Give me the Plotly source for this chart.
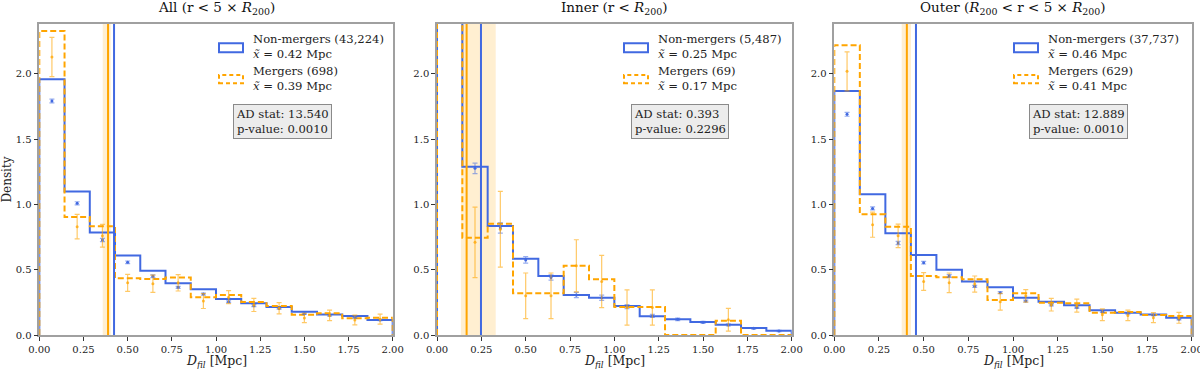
import numpy as np
import plotly.graph_objects as go

# --- data --------------------------------------------------------------
bin_edges = np.linspace(0, 2, 15)
bin_mid = (bin_edges[:-1] + bin_edges[1:]) / 2

panel_titles = [
    "All (r < 5 × <i>R</i><sub>200</sub>)",
    "Inner (r < <i>R</i><sub>200</sub>)",
    "Outer (<i>R</i><sub>200</sub> < r < 5 × <i>R</i><sub>200</sub>)",
]
n_nonmergers = [43224, 5487, 37737]
n_mergers = [698, 69, 629]
median_nonmergers = [0.423, 0.248, 0.457]
median_mergers = [0.389, 0.167, 0.406]
median_mergers_lo = [0.359, 0.135, 0.377]
median_mergers_hi = [0.404, 0.331, 0.429]
ad_stat = [13.540, 0.393, 12.889]
p_value = [0.0010, 0.2296, 0.0010]

# histogram densities (step outlines)
all_nm_hist = [1.96, 1.10, 0.785, 0.61, 0.493, 0.396, 0.35, 0.276, 0.243, 0.215, 0.179, 0.158, 0.146, 0.115]
all_m_hist = [2.33, 0.904, 0.833, 0.434, 0.43, 0.44, 0.289, 0.307, 0.253, 0.222, 0.155, 0.166, 0.128, 0.133]
inner_nm_hist = [3.9, 1.29, 0.835, 0.585, 0.452, 0.307, 0.286, 0.222, 0.143, 0.12, 0.1, 0.079, 0.054, 0.033]
inner_m_hist = [4.4, 0.746, 0.853, 0.319, 0.319, 0.531, 0.427, 0.215, 0.215, 0.0, 0.0, 0.11, 0.0, 0.0]
outer_nm_hist = [1.87, 1.078, 0.779, 0.613, 0.5, 0.409, 0.365, 0.286, 0.255, 0.227, 0.19, 0.171, 0.158, 0.133]
outer_m_hist = [2.22, 0.925, 0.83, 0.452, 0.442, 0.427, 0.268, 0.319, 0.248, 0.243, 0.171, 0.176, 0.153, 0.146]

# bootstrap points with errors
all_nm_pts = [1.793, 1.009, 0.728, 0.557, 0.45, 0.365, 0.314, 0.255, 0.225, 0.204, 0.163, 0.151, 0.135, 0.115]
all_nm_err = [0.015, 0.012, 0.012, 0.01, 0.01, 0.008, 0.008, 0.007, 0.007, 0.006, 0.006, 0.006, 0.005, 0.005]
all_m_pts = [2.13, 0.83, 0.76, 0.40, 0.393, 0.40, 0.26, 0.29, 0.23, 0.205, 0.13, 0.15, 0.115, 0.122]
all_m_err = [0.15, 0.094, 0.087, 0.065, 0.066, 0.063, 0.057, 0.05, 0.05, 0.043, 0.035, 0.04, 0.038, 0.038]

inner_nm_pts = [3.7, 1.277, 0.82, 0.575, 0.44, 0.307, 0.286, 0.217, 0.146, 0.12, 0.097, 0.077, 0.051, 0.03]
inner_nm_err = [0.1, 0.04, 0.04, 0.025, 0.02, 0.02, 0.02, 0.015, 0.012, 0.01, 0.008, 0.008, 0.006, 0.005]
inner_m_pts = [4.2, 0.71, 0.81, 0.30, 0.30, 0.53, 0.41, 0.21, 0.21, None, None, 0.117, None, None]
inner_m_err = [0.5, 0.27, 0.29, 0.175, 0.175, 0.2, 0.2, 0.135, 0.135, None, None, 0.087, None, None]

outer_nm_pts = [1.691, 0.97, 0.705, 0.554, 0.452, 0.373, 0.324, 0.26, 0.23, 0.21, 0.18, 0.166, 0.153, 0.12]
outer_nm_err = [0.015, 0.012, 0.012, 0.01, 0.01, 0.008, 0.008, 0.007, 0.007, 0.006, 0.006, 0.006, 0.005, 0.005]
outer_m_pts = [2.02, 0.845, 0.76, 0.41, 0.40, 0.39, 0.255, 0.30, 0.232, 0.225, 0.155, 0.15, 0.133, 0.132]
outer_m_err = [0.15, 0.096, 0.09, 0.068, 0.075, 0.062, 0.064, 0.048, 0.048, 0.05, 0.045, 0.04, 0.038, 0.042]

panels = [
    (all_nm_hist, all_m_hist, all_nm_pts, all_nm_err, all_m_pts, all_m_err),
    (inner_nm_hist, inner_m_hist, inner_nm_pts, inner_nm_err, inner_m_pts, inner_m_err),
    (outer_nm_hist, outer_m_hist, outer_nm_pts, outer_nm_err, outer_m_pts, outer_m_err),
]

# --- styling ------------------------------------------------------------
W, H = 1200, 369
TOP, BOTTOM = 24, 335
BLUE = "#4169E1"
ORANGE = "#FFA500"
FONT = "DejaVu Serif"
DASH = "6px,3px"
TEXT_SIZE = 11.6
x_domains_px = [(39.3, 392.7), (437.0, 791.7), (834.3, 1191.7)]
legend_left_px = [219, 624, 1014]
ad_center_px = [282.5, 680.3, 1078.0]


def px(x):
    return x / W


def py(y):
    return (BOTTOM - y) / (BOTTOM - TOP)


fig = go.Figure()
shapes = []
annotations = []

for i, (nm_h, m_h, nm_p, nm_e, m_p, m_e) in enumerate(panels):
    sfx = "" if i == 0 else str(i + 1)
    xa, ya = "x" + sfx, "y" + sfx

    # CI band of merger median
    shapes.append(dict(type="rect", xref=xa, yref=ya + " domain",
                       x0=median_mergers_lo[i], x1=median_mergers_hi[i], y0=0, y1=1,
                       fillcolor="rgba(255,165,0,0.18)", line_width=0, layer="below"))

    step_x = [bin_edges[0]] + list(bin_edges)
    fig.add_trace(go.Scatter(x=step_x, y=[0] + list(nm_h) + [0], mode="lines",
                             line=dict(color=BLUE, width=2, shape="hv"),
                             xaxis=xa, yaxis=ya, showlegend=False))
    fig.add_trace(go.Scatter(x=step_x, y=[0] + list(m_h) + [0], mode="lines",
                             line=dict(color=ORANGE, width=2, shape="hv", dash=DASH),
                             xaxis=xa, yaxis=ya, showlegend=False))

    # median lines
    shapes.append(dict(type="line", xref=xa, yref=ya + " domain",
                       x0=median_mergers[i], x1=median_mergers[i], y0=0, y1=1,
                       line=dict(color=ORANGE, width=2)))
    shapes.append(dict(type="line", xref=xa, yref=ya + " domain",
                       x0=median_nonmergers[i], x1=median_nonmergers[i], y0=0, y1=1,
                       line=dict(color=BLUE, width=2)))

    fig.add_trace(go.Scatter(x=bin_mid, y=nm_p, mode="markers",
                             marker=dict(color=BLUE, size=3),
                             error_y=dict(type="data", array=nm_e, color="rgba(65,105,225,0.55)",
                                          thickness=1.2, width=2.5),
                             xaxis=xa, yaxis=ya, showlegend=False))
    fig.add_trace(go.Scatter(x=bin_mid, y=m_p, mode="markers",
                             marker=dict(color="rgba(255,165,0,0.75)", size=3),
                             error_y=dict(type="data", array=m_e, color="rgba(255,165,0,0.6)",
                                          thickness=1.2, width=2.5),
                             xaxis=xa, yaxis=ya, showlegend=False))

    # legend box (patches + labels)
    lx = legend_left_px[i]
    shapes.append(dict(type="rect", xref="paper", yref="paper",
                       x0=px(lx), x1=px(lx + 24), y0=py(52.3), y1=py(43.3),
                       line=dict(color=BLUE, width=2)))
    shapes.append(dict(type="rect", xref="paper", yref="paper",
                       x0=px(lx), x1=px(lx + 24), y0=py(83.3), y1=py(75),
                       line=dict(color=ORANGE, width=2, dash="4px,3px")))
    annotations.append(dict(xref="paper", yref="paper", x=px(lx + 32), y=py(46.7),
                            xanchor="left", yanchor="middle", align="left", showarrow=False,
                            text=f"Non-mergers ({n_nonmergers[i]:,})<br><i>x̃</i> = {median_nonmergers[i]:.2f} Mpc",
                            font=dict(family=FONT, size=TEXT_SIZE, color="#222")))
    annotations.append(dict(xref="paper", yref="paper", x=px(lx + 32), y=py(78.3),
                            xanchor="left", yanchor="middle", align="left", showarrow=False,
                            text=f"Mergers ({n_mergers[i]})<br><i>x̃</i> = {median_mergers[i]:.2f} Mpc",
                            font=dict(family=FONT, size=TEXT_SIZE, color="#222")))

    annotations.append(dict(xref="paper", yref="paper", x=px(ad_center_px[i]), y=py(121.5),
                            xanchor="center", yanchor="middle", align="left", showarrow=False,
                            text=f"AD stat: {ad_stat[i]:.3f}<br>p-value: {p_value[i]:.4f}",
                            bgcolor="#ececec", bordercolor="#8a8a8a", borderwidth=1, borderpad=2,
                            font=dict(family=FONT, size=TEXT_SIZE, color="#222")))

    # panel title and x-axis title
    x0, x1 = x_domains_px[i]
    annotations.append(dict(xref="paper", yref="paper", x=px((x0 + x1) / 2), y=py(8),
                            xanchor="center", yanchor="middle", showarrow=False,
                            text=panel_titles[i], font=dict(family=FONT, size=13.5, color="#111")))
    annotations.append(dict(xref="paper", yref="paper", x=px((x0 + x1) / 2), y=py(361),
                            xanchor="center", yanchor="middle", showarrow=False,
                            text="<i>D<sub>fil</sub></i> [Mpc]",
                            font=dict(family=FONT, size=12.5, color="#222")))

    axis_common = dict(showline=True, mirror=True, linecolor="#a0a0a0", linewidth=1.5,
                       ticks="outside", ticklen=4, tickcolor="#333", showgrid=False,
                       zeroline=False, automargin=False, ticklabeloverflow="allow",
                       tickfont=dict(family=FONT, size=10, color="#222"))
    fig.layout["xaxis" + sfx] = dict(
        axis_common, domain=[px(x0), px(x1)], range=[0, 2], anchor=ya,
        tickvals=[0, 0.25, 0.5, 0.75, 1.0, 1.25, 1.5, 1.75, 2.0], tickformat=".2f")
    yaxis = dict(axis_common, domain=[0, 1], range=[0, 2.383], anchor=xa,
                 tickvals=[0, 0.5, 1.0, 1.5, 2.0], tickformat=".1f")
    if i == 0:
        yaxis["title"] = dict(text="Density", standoff=4,
                              font=dict(family=FONT, size=12, color="#222"))
    fig.layout["yaxis" + sfx] = yaxis

fig.update_layout(
    width=W, height=H,
    margin=dict(l=0, r=0, t=TOP, b=H - BOTTOM),
    plot_bgcolor="white", paper_bgcolor="white",
    shapes=shapes, annotations=annotations,
    showlegend=False,
)

fig.write_html("out.html", config={"displayModeBar": False},
               post_script="document.body.style.margin='0';")
